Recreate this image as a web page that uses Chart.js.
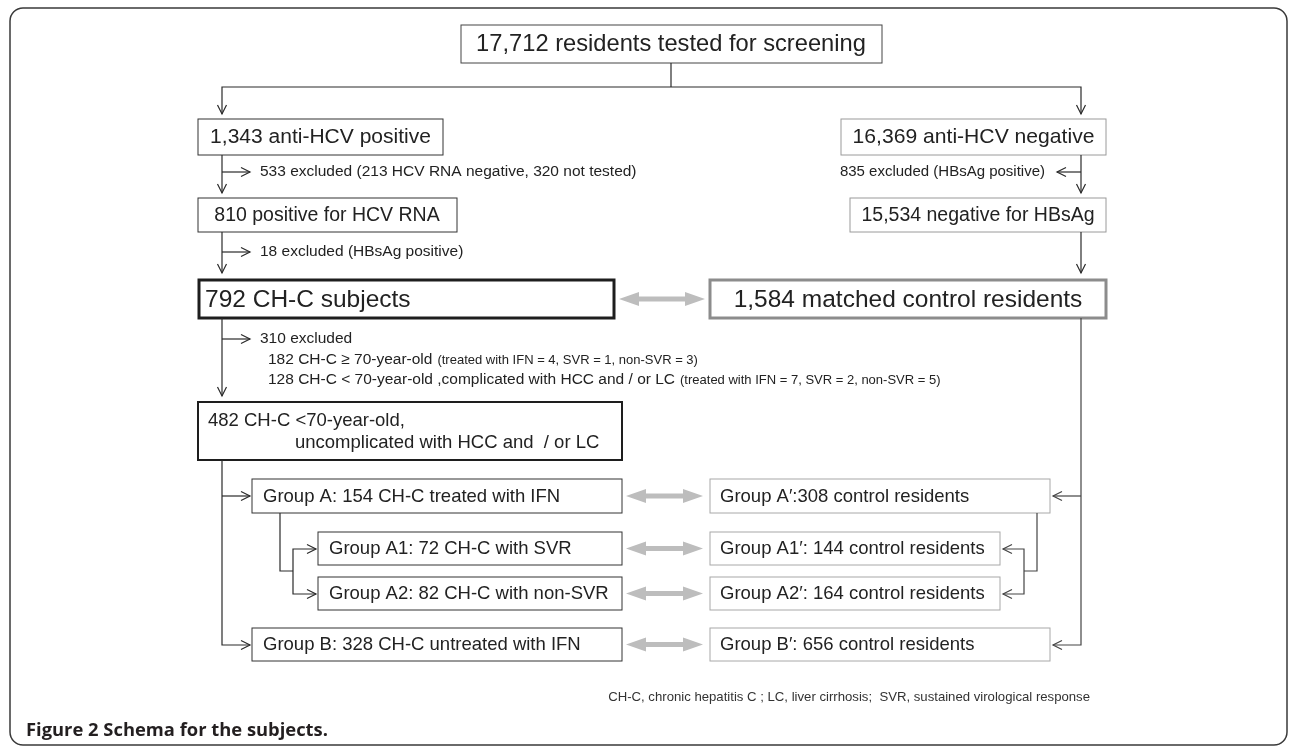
<!DOCTYPE html>
<html>
<head>
<meta charset="utf-8">
<script src="https://cdn.jsdelivr.net/npm/chart.js@4.4.1/dist/chart.umd.min.js"></script>
<style>
  html, body { margin: 0; padding: 0; background: #fff; }
  canvas { display: block; }
</style>
</head>
<body>
<canvas id="chart" width="1290" height="748"></canvas>
<script>
// texts of the schema
const screenLabel = "17,712 residents tested for screening";
const leftBoxLabels = ["1,343 anti-HCV positive", "810 positive for HCV RNA", "792 CH-C subjects"];
const rightBoxLabels = ["16,369 anti-HCV negative", "15,534 negative for HBsAg", "1,584 matched control residents"];
const exclusionLabels = ["533 excluded (213 HCV RNA negative, 320 not tested)", "18 excluded (HBsAg positive)", "835 excluded (HBsAg positive)", "310 excluded"];
const agedMain = ["182 CH-C \u2265 70-year-old", "128 CH-C < 70-year-old ,complicated with HCC and / or LC"];
const agedNote = ["(treated with IFN = 4, SVR = 1, non-SVR = 3)", "(treated with IFN = 7, SVR = 2, non-SVR = 5)"];
const eligibleLabels = ["482 CH-C <70-year-old,", "uncomplicated with HCC and  / or LC"];
const groupLabels = ["Group A: 154 CH-C treated with IFN", "Group A1: 72 CH-C with SVR", "Group A2: 82 CH-C with non-SVR", "Group B: 328 CH-C untreated with IFN"];
const controlLabels = ["Group A\u2032:308 control residents", "Group A1\u2032: 144 control residents", "Group A2\u2032: 164 control residents", "Group B\u2032: 656 control residents"];
const footnote = "CH-C, chronic hepatitis C ; LC, liver cirrhosis;  SVR, sustained virological response";
const captionLabel = ["Figure 2", " Schema for the subjects."];

// layout (value units = pixels of the 1290 x 748 figure)
const W = 1290, H = 748;
const groupRows = [[479, 513], [532, 565], [577, 610], [628, 661]];
const groupX = [[252, 622], [318, 622], [318, 622], [252, 622]];
const controlX = [[710, 1050], [710, 1000], [710, 1000], [710, 1050]];

const SANS = '"Liberation Sans", Arial, sans-serif';
const DARK = "#2a2a2a";

const flowPlugin = {
  id: "flow",
  afterDraw(chart) {
    const ctx = chart.ctx;
    const xs = chart.scales.x, ys = chart.scales.y;
    const px = v => xs.getPixelForValue(v);
    const py = v => ys.getPixelForValue(v);

    function path(pts, color, w) {
      ctx.save();
      ctx.strokeStyle = color || DARK;
      ctx.lineWidth = w || 1.2;
      ctx.beginPath();
      pts.forEach((p, i) => i ? ctx.lineTo(px(p[0]), py(p[1])) : ctx.moveTo(px(p[0]), py(p[1])));
      ctx.stroke();
      ctx.restore();
    }
    function head(x, y, dir, color) {
      const L = 9, S = 4.5;
      let a, b;
      if (dir === "d") { a = [x - S, y - L]; b = [x + S, y - L]; }
      if (dir === "r") { a = [x - L, y - S]; b = [x - L, y + S]; }
      if (dir === "l") { a = [x + L, y - S]; b = [x + L, y + S]; }
      path([a, [x, y], b], color, 1.2);
    }
    function box(x0, y0, x1, y1, color, w) {
      ctx.save();
      ctx.strokeStyle = color;
      ctx.lineWidth = w;
      ctx.strokeRect(px(x0), py(y0), px(x1) - px(x0), py(y1) - py(y0));
      ctx.restore();
    }
    function fit(str, weight, family, width) {
      ctx.font = weight + " 100px " + family;
      return 100 * width / ctx.measureText(str).width;
    }
    function text(str, x, y, size, opt) {
      opt = opt || {};
      ctx.save();
      ctx.fillStyle = opt.color || "#222";
      ctx.font = (opt.weight || "normal") + " " + size + "px " + (opt.family || SANS);
      ctx.textAlign = opt.align || "left";
      ctx.textBaseline = "middle";
      ctx.fillText(str, px(x), py(y));
      const w = ctx.measureText(str).width;
      ctx.restore();
      return w;
    }
    function grayArrow(x0, x1, yc) {
      const hl = 20, hw = 7, sw = 2.4;
      ctx.save();
      ctx.fillStyle = "#bdbdbd";
      ctx.beginPath();
      ctx.moveTo(px(x0), py(yc));
      ctx.lineTo(px(x0 + hl), py(yc - hw));
      ctx.lineTo(px(x0 + hl), py(yc - sw));
      ctx.lineTo(px(x1 - hl), py(yc - sw));
      ctx.lineTo(px(x1 - hl), py(yc - hw));
      ctx.lineTo(px(x1), py(yc));
      ctx.lineTo(px(x1 - hl), py(yc + hw));
      ctx.lineTo(px(x1 - hl), py(yc + sw));
      ctx.lineTo(px(x0 + hl), py(yc + sw));
      ctx.lineTo(px(x0 + hl), py(yc + hw));
      ctx.closePath();
      ctx.fill();
      ctx.restore();
    }

    // outer rounded frame
    ctx.save();
    ctx.strokeStyle = "#3a3a3a";
    ctx.lineWidth = 1.5;
    const fx0 = px(10), fy0 = py(8), fx1 = px(1287), fy1 = py(745), r = 13;
    ctx.beginPath();
    ctx.moveTo(fx0 + r, fy0);
    ctx.arcTo(fx1, fy0, fx1, fy1, r);
    ctx.arcTo(fx1, fy1, fx0, fy1, r);
    ctx.arcTo(fx0, fy1, fx0, fy0, r);
    ctx.arcTo(fx0, fy0, fx1, fy0, r);
    ctx.stroke();
    ctx.restore();

    // top box and split
    box(461, 25, 882, 63, "#444", 1);
    text(screenLabel, 671, 44.5, fit(screenLabel, "normal", SANS, 390), { align: "center" });
    path([[671, 63], [671, 87]]);
    path([[222, 114], [222, 87], [1081, 87], [1081, 114]]);
    head(222, 114, "d");
    head(1081, 114, "d");

    // left column
    box(198, 119, 443, 155, "#333", 1);
    text(leftBoxLabels[0], 320.5, 137.5, fit(leftBoxLabels[0], "normal", SANS, 221), { align: "center" });
    path([[222, 155], [222, 193]]);
    head(222, 193, "d");
    path([[222, 172], [250, 172]]);
    head(250, 172, "r");
    text(exclusionLabels[0], 260, 172, 15.5);

    box(198, 198, 457, 232, "#333", 1);
    text(leftBoxLabels[1], 327, 215.5, 19.5, { align: "center" });
    path([[222, 232], [222, 273]]);
    head(222, 273, "d");
    path([[222, 252], [250, 252]]);
    head(250, 252, "r");
    text(exclusionLabels[1], 260, 252, 15.5);

    box(199, 280, 614, 318, "#1e1e1e", 3);
    text(leftBoxLabels[2], 205, 300, 24.5);

    // right column
    box(841, 119, 1106, 155, "#9a9a9a", 1);
    text(rightBoxLabels[0], 973.5, 137.5, fit(rightBoxLabels[0], "normal", SANS, 242), { align: "center" });
    path([[1081, 155], [1081, 193]]);
    head(1081, 193, "d");
    path([[1081, 172], [1057, 172]]);
    head(1057, 172, "l");
    text(exclusionLabels[2], 1045, 172, 15, { align: "right" });

    box(850, 198, 1106, 232, "#9a9a9a", 1);
    text(rightBoxLabels[1], 978, 215.5, 19.5, { align: "center" });
    path([[1081, 232], [1081, 273]]);
    head(1081, 273, "d");

    box(710, 280, 1106, 318, "#8c8c8c", 3);
    text(rightBoxLabels[2], 908, 300, 24.5, { align: "center" });
    grayArrow(619, 705, 299);

    // exclusions after CH-C subjects
    path([[222, 318], [222, 396]]);
    head(222, 396, "d");
    path([[222, 339], [250, 339]]);
    head(250, 339, "r");
    text(exclusionLabels[3], 260, 339, 15.5);
    agedMain.forEach((s, i) => {
      const yy = 360 + i * 20;
      const w = text(s, 268, yy, 15.5);
      text(agedNote[i], 268 + w + 5, yy + 0.5, 13);
    });

    // eligible box
    box(198, 402, 622, 460, "#1e1e1e", 2);
    text(eligibleLabels[0], 208, 421, 18.5);
    text(eligibleLabels[1], 295, 443, 18.5);

    // group branches
    path([[222, 460], [222, 645], [250, 645]]);
    path([[222, 496], [250, 496]]);
    head(250, 496, "r");
    head(250, 645, "r");
    path([[280, 513], [280, 571], [293, 571]]);
    path([[316, 549], [293, 549], [293, 594], [316, 594]]);
    head(316, 549, "r");
    head(316, 594, "r");

    groupRows.forEach((row, i) => {
      const yc = (row[0] + row[1]) / 2;
      box(groupX[i][0], row[0], groupX[i][1], row[1], "#333", 1);
      text(groupLabels[i], groupX[i][0] + 11, yc + 0.5, 18.5);
      box(controlX[i][0], row[0], controlX[i][1], row[1], "#a8a8a8", 1);
      text(controlLabels[i], controlX[i][0] + 10, yc + 0.5, 18.5);
      grayArrow(626, 703, yc);
    });

    // control branches
    path([[1081, 318], [1081, 645], [1053, 645]], "#444");
    path([[1081, 496], [1053, 496]], "#444");
    head(1053, 496, "l", "#444");
    head(1053, 645, "l", "#444");
    path([[1037, 513], [1037, 571], [1024, 571]], "#444");
    path([[1003, 549], [1024, 549], [1024, 594], [1003, 594]], "#444");
    head(1003, 549, "l", "#444");
    head(1003, 594, "l", "#444");

    // footnote and caption
    text(footnote, 1090, 697, fit(footnote, "normal", SANS, 482), { align: "right", color: "#333" });
    const capFam = '"Open Sans", "Noto Sans", sans-serif';
    const capSize = fit(captionLabel[0] + captionLabel[1], "bold", capFam, 302);
    const cw = text(captionLabel[0], 26, 731, capSize, { weight: "bold", family: capFam, color: "#231f20" });
    text(captionLabel[1], 26 + cw, 731, capSize, { weight: "bold", family: capFam, color: "#231f20" });
  }
};

new Chart(document.getElementById("chart").getContext("2d"), {
  type: "scatter",
  data: { datasets: [{ data: [], pointRadius: 0 }] },
  options: {
    responsive: false,
    animation: false,
    events: [],
    layout: { padding: 0 },
    plugins: { legend: { display: false }, tooltip: { enabled: false } },
    scales: {
      x: { type: "linear", min: 0, max: W, display: false },
      y: { type: "linear", min: 0, max: H, reverse: true, display: false }
    }
  },
  plugins: [flowPlugin]
});
</script>
</body>
</html>
